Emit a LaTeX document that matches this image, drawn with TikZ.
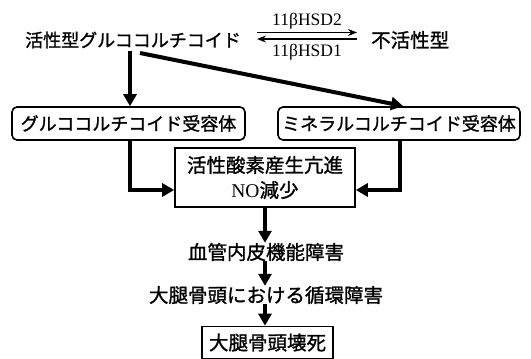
\documentclass[tikz,border=0pt]{standalone}
\usepackage{fontspec}
\setmainfont{Liberation Serif}
\newfontfamily\jp[FakeBold=1.2]{Noto Sans CJK JP}
\usetikzlibrary{arrows.meta}
\begin{document}
\begin{tikzpicture}[x=1pt,y=-1pt,
  txt/.style={inner sep=0pt,font=\jp\fontsize{19.5}{22}\selectfont},
  kata/.style={inner sep=0pt,font=\jp\fontsize{18}{21}\selectfont},
  rbox/.style={draw,line width=1.6pt,rounded corners=5pt,minimum height=33pt,inner sep=0pt},
  sbox/.style={draw,line width=1.6pt,inner sep=0pt},
  big/.style={line width=4pt,-{Triangle[length=12pt,width=13pt]}},
  thin/.style={line width=1.6pt,-{Stealth[length=9pt,width=7pt]}},
  hsd/.style={inner sep=0pt,font=\fontsize{17.5}{19}\selectfont}]
\useasboundingbox (0,0) rectangle (531,359);
% top row
\node[kata,anchor=west] (agc) at (25,40) {活性型グルココルチコイド};
\node[txt,anchor=west] (inact) at (371,40) {不活性型};
\coordinate (h1a) at (257,32.5);
\coordinate (h1b) at (357,32.5);
\coordinate (h2a) at (357,39);
\coordinate (h2b) at (257,39);
\draw[thin] (h1a) -- (h1b);
\draw[thin] (h2a) -- (h2b);
\node[hsd] (hsd2) at (307,21) {11βHSD2};
\node[hsd] (hsd1) at (307,52) {11βHSD1};
% receptors
\node[rbox,minimum width=233pt,kata] (gr) at (128.5,123.5) {グルココルチコイド受容体};
\node[rbox,minimum width=242pt,kata] (mr) at (399,123.5) {ミネラルコルチコイド受容体};
\coordinate (s1) at (130,51);
\coordinate (s2) at (140,53);
\draw[big] (s1) -- (gr.north -| s1);
\draw[big] (s2) -- (403,106);
% center box
\node[sbox,minimum width=180pt,minimum height=59pt,align=center,txt] (ros) at (265,177.5)
  {活性酸素産生亢進\\[3pt]{\fontsize{19.5}{22}\selectfont\rmfamily NO}減少};
\draw[big] (gr.south -| s1) |- (ros.west |- 0,190);
\draw[big] (mr.south -| 400,0) |- (ros.east |- 0,190);
% chain
\node[txt] (endo) at (266,252) {血管内皮機能障害};
\node[txt] (circ) at (266,295) {大腿骨頭における循環障害};
\node[sbox,minimum width=131pt,minimum height=32pt,txt] (nec) at (267.5,342.5) {大腿骨頭壊死};
\draw[big,line width=3.5pt] (ros.south -| 265,0) -- (endo.north -| 265,0);
\draw[big,line width=3.5pt] (endo.south -| 265,0) -- (circ.north -| 265,0);
\draw[big,line width=3.5pt] (circ.south -| 265,0) -- (nec.north -| 265,0);
\end{tikzpicture}
\end{document}
